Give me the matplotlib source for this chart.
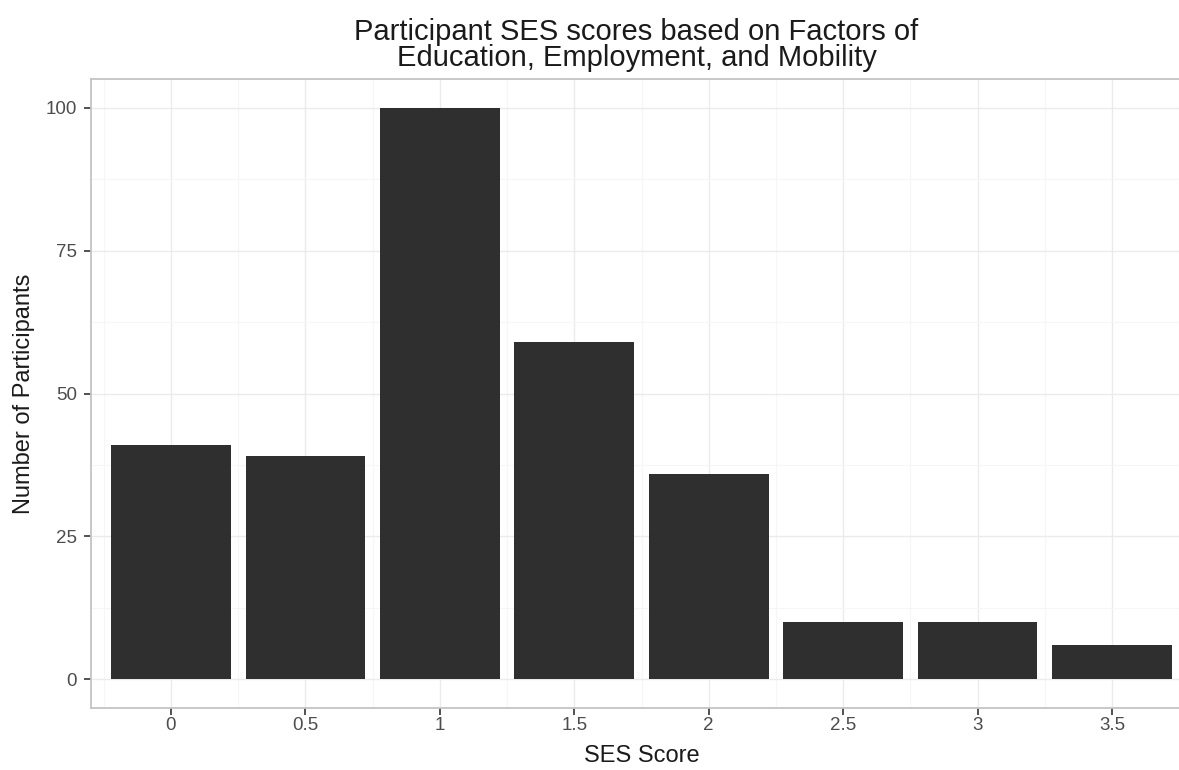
import matplotlib
matplotlib.use("Agg")
import matplotlib.pyplot as plt
from matplotlib.ticker import MultipleLocator, FixedLocator

plt.rcParams['font.family'] = ['Liberation Sans', 'DejaVu Sans']

ses_scores = [0, 0.5, 1, 1.5, 2, 2.5, 3, 3.5]
participants = [41, 39, 100, 59, 36, 10, 10, 6]
x_tick_labels = ["0", "0.5", "1", "1.5", "2", "2.5", "3", "3.5"]
y_ticks = [0, 25, 50, 75, 100]

W, H = 1179, 770
fig = plt.figure(figsize=(W / 100, H / 100), dpi=100)
left, right, top, bottom = 91, 1192, 79, 708
ax = fig.add_axes([left / W, 1 - bottom / H, (right - left) / W, (bottom - top) / H])

ax.bar(ses_scores, participants, width=0.445, color="#2f2f2f", zorder=3)

ax.set_xlim(-0.2975, 3.7975)
ax.set_ylim(-5, 105)

ax.xaxis.set_major_locator(FixedLocator(ses_scores))
ax.set_xticklabels(x_tick_labels)
ax.xaxis.set_minor_locator(MultipleLocator(0.25))
ax.yaxis.set_major_locator(FixedLocator(y_ticks))
ax.yaxis.set_minor_locator(MultipleLocator(12.5))

ax.grid(which="major", color="#ebebeb", linewidth=1.0, zorder=0)
ax.grid(which="minor", color="#f6f6f6", linewidth=0.8, zorder=0)
ax.set_axisbelow(True)

for s in ax.spines.values():
    s.set_color("#c4c4c4")
    s.set_linewidth(1.3)
ax.spines['right'].set_visible(False)

ax.tick_params(axis="both", which="major", length=5, width=1.2, color="#333333",
               labelsize=13.5, labelcolor="#4d4d4d")
ax.tick_params(axis="x", which="major", pad=1.5)
ax.tick_params(axis="y", which="major", pad=5)
ax.tick_params(axis="both", which="minor", length=0)

ax.set_xlabel("SES Score", fontsize=17, color="#1a1a1a", labelpad=8)
ax.set_ylabel("Number of Participants", fontsize=17, color="#1a1a1a", labelpad=8)
ax.set_title("Participant SES scores based on Factors of\nEducation, Employment, and Mobility",
             fontsize=21, color="#1a1a1a", pad=9, linespacing=0.92, x=0.4955)

fig.savefig("out.png", dpi=100, facecolor="white")
